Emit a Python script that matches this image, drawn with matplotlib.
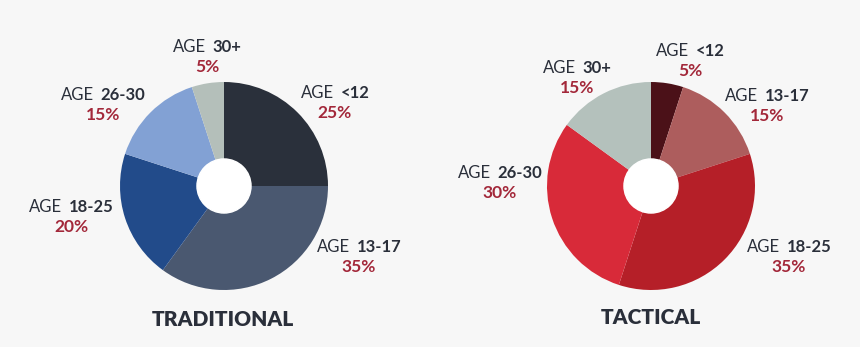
import matplotlib.pyplot as plt
from matplotlib.patches import Circle

plt.rcParams['font.family'] = ['Lato', 'DejaVu Sans']

# data
ages = ["<12", "13-17", "18-25", "26-30", "30+"]
trad_share = [25, 35, 20, 15, 5]
tact_share = [5, 15, 35, 30, 15]

trad_colors = ["#2a303b", "#4a5870", "#224b8a", "#82a1d4", "#b4bfba"]
tact_colors = ["#4b1118", "#ad5d5d", "#b51f28", "#d82a39", "#b4c1bc"]

# label positions in pixels (x, y from top) for each pie
trad_pos = [(335, 93), (359, 247), (71, 207), (103, 95), (207, 47)]
tact_pos = [(690, 51), (767, 96), (789, 247), (500, 173), (577, 68)]

W, H = 860, 347
bg = "#f7f7f7"
dark = "#2a2f3a"
red = "#a3283a"

fig = plt.figure(figsize=(W / 100, H / 100), dpi=100, facecolor=bg)

# full-figure axes for text, pixel coords
tax = fig.add_axes([0, 0, 1, 1])
tax.set_xlim(0, W)
tax.set_ylim(H, 0)
tax.axis("off")
tax.set_facecolor(bg)


def donut(cx, cy, vals, cols):
    r = 104
    half = 112
    ax = fig.add_axes([(cx - half) / W, (H - cy - half) / H, 2 * half / W, 2 * half / H])
    ax.pie(vals, colors=cols, startangle=90, counterclock=False, radius=1,
           wedgeprops=dict(linewidth=0))
    ax.add_patch(Circle((0, 0), 0.26, color="white", zorder=5))
    ax.set_xlim(-half / r, half / r)
    ax.set_ylim(-half / r, half / r)
    ax.set_aspect("equal")
    ax.axis("off")


renderer = fig.canvas.get_renderer()


def age_label(x, y, age, pct):
    t1 = tax.text(0, y, "AGE", fontsize=12, color=dark, ha="left", va="center")
    t2 = tax.text(0, y, age, fontsize=12, color=dark, fontweight="bold",
                  ha="left", va="center")
    w1 = t1.get_window_extent(renderer).width
    w2 = t2.get_window_extent(renderer).width
    gap = 7
    left = x - (w1 + gap + w2) / 2
    t1.set_x(left)
    t2.set_x(left + w1 + gap)
    tax.text(x, y + 20, "%d%%" % pct, fontsize=12.5, color=red, fontweight="bold",
             ha="center", va="center")


donut(224, 186, trad_share, trad_colors)
donut(651, 186, tact_share, tact_colors)

for a, v, p in zip(ages, trad_share, trad_pos):
    age_label(p[0], p[1], a, v)
for a, v, p in zip(ages, tact_share, tact_pos):
    age_label(p[0], p[1], a, v)

tax.text(223, 319, "TRADITIONAL", fontsize=15, color=dark, fontweight="heavy",
         ha="center", va="center")
tax.text(651, 318, "TACTICAL", fontsize=15, color=dark, fontweight="heavy",
         ha="center", va="center")

fig.savefig("out.png", dpi=100, facecolor=bg)
